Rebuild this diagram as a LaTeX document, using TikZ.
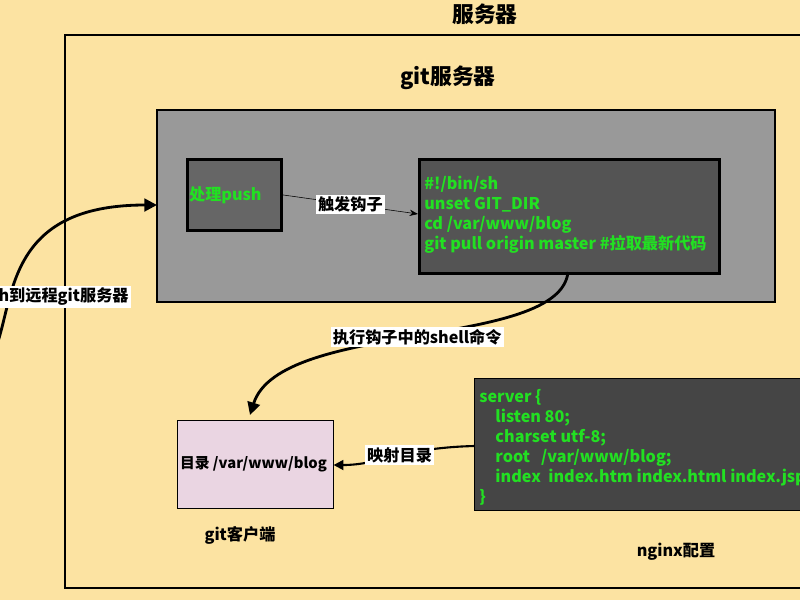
\documentclass[tikz,border=0pt]{standalone}
\usepackage{fontspec}
\setmainfont{Noto Sans CJK SC}
\usetikzlibrary{arrows.meta}
\definecolor{bgyellow}{HTML}{FCE3A2}
\definecolor{codegreen}{HTML}{22E022}
\definecolor{clientpink}{HTML}{EAD5E2}
\tikzset{
  frame/.style={draw=black,line width=2pt},
  code/.style={text=codegreen,font=\bfseries\fontsize{11.5}{14.2}\selectfont,align=left},
  lbl/.style={fill=white,inner sep=1.5pt,font=\bfseries\fontsize{11.5}{14}\selectfont},
  ttl/.style={font=\bfseries\fontsize{15.5}{18}\selectfont},
  bigarrow/.style={line width=2pt,-{Triangle[length=9pt,width=9pt]}}
}
\begin{document}
\begin{tikzpicture}[x=0.025cm,y=-0.025cm]
    \useasboundingbox (0,0) rectangle (800,600);
    \fill [bgyellow] (0,0) rectangle (800,600);
    \begin{scope}
    \clip (0,0) rectangle (800,600);

    % frames
    \draw [frame] (65,35) rectangle (820,588);
    \draw [frame,fill=gray!80] (157,110) rectangle (775,302);
    \node [frame,fill=black!60,minimum width=94*0.025cm,minimum height=71*0.025cm,
           anchor=north west,inner sep=0pt] (push) at (186,158) {};
    \node [code,anchor=west,inner sep=2pt] at (push.west) {处理push};
    \node [frame,fill=black!67,minimum width=300*0.025cm,minimum height=114*0.025cm,
           anchor=north west,inner sep=0pt] (hook) at (418,158) {};
    \node [code,anchor=north west,inner sep=0pt] at (424,176)
          {\#!/bin/sh\\unset GIT\_DIR\\cd /var/www/blog\\git pull origin master \#拉取最新代码};
    \node [draw=black,fill=clientpink,minimum width=156*0.025cm,minimum height=88*0.025cm,
           anchor=north west,inner sep=0pt] (client) at (177,420) {};
    \node [font=\bfseries\fontsize{10.5}{13}\selectfont,anchor=west,inner sep=2pt] at (client.west) {目录 /var/www/blog};
    \node [draw=black,fill=black!73,minimum width=346*0.025cm,minimum height=132*0.025cm,
           anchor=north west,inner sep=0pt] (nginx) at (474,378) {};
    \node [code,anchor=north west,inner sep=0pt] at (479,389)
          {server \{\\\quad listen 80;\\\quad charset utf-8;\\\quad root \ \ /var/www/blog;\\\quad index \ index.htm index.html index.jsp\\\}};

    % titles
    \node [ttl] at (485,14) {服务器};
    \node [ttl] at (448,78) {git服务器};
    \node [font=\bfseries\fontsize{11.5}{14}\selectfont] at (240,535) {git客户端};
    \node [font=\bfseries\fontsize{11.5}{14}\selectfont] at (676,552) {nginx配置};

    % connectors
    \coordinate (local) at (-5,350);
    \draw [-{Stealth[length=6pt]}] (push.east) -- node [lbl] {触发钩子} (hook.west |- 0,214);
    \draw [bigarrow] (local) .. controls (15,300) and (5,205) .. (157,205);
    \node [lbl,anchor=east] at (131,297) {push到远程git服务器};
    \draw [bigarrow] (568,272) .. controls (560,350) and (280,320) .. (250,415)
          node [pos=0.5,lbl] {执行钩子中的shell命令};
    \draw [line width=1.5pt,-{Triangle[length=7pt,width=7pt]}] (nginx.west |- 0,446)
          .. controls (400,448) and (380,465) .. (client.east |- 0,465)
          node [pos=0.45,lbl] {映射目录};
    \end{scope}
\end{tikzpicture}
\end{document}
